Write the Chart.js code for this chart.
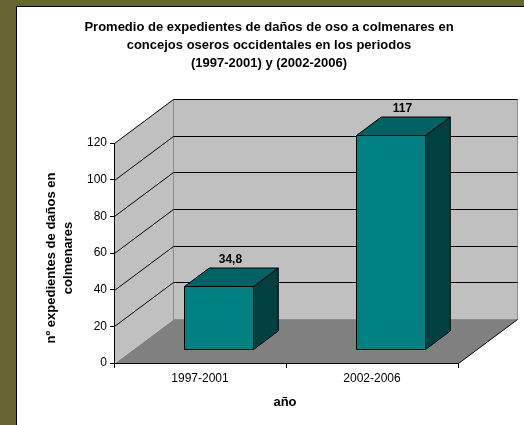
<!DOCTYPE html>
<html>
<head>
<meta charset="utf-8">
<script src="https://cdn.jsdelivr.net/npm/chart.js@4.4.0/dist/chart.umd.min.js"></script>
<style>
  html, body { margin: 0; padding: 0; background: #666633; }
  #panel { position: absolute; left: 16px; top: 6px; width: 507px; height: 418px; background: #fff; border-left: 1px solid #000; border-top: 1px solid #000; }
  #wrap { position: absolute; left: 0; top: 0; width: 524px; height: 425px; }
</style>
</head>
<body>
<div id="panel"></div>
<div id="wrap"><canvas id="chart" width="524" height="425"></canvas></div>
<script>
// data
const titleLines = [
    'Promedio de expedientes de daños de oso a colmenares en',
    'concejos oseros occidentales en los periodos',
    '(1997-2001) y (2002-2006)'
];
const periods = ['1997-2001', '2002-2006'];
const expedientes = [34.8, 117];
const yTicks = [0, 20, 40, 60, 80, 100, 120];
const yTitle = ['nº expedientes de daños en', 'colmenares'];
const xTitle = 'año';

const font = '"Liberation Sans", Arial, sans-serif';

// 3d look: depth of the box and where the bars sit inside it
const depthX = 59, depthY = -44;
const barFront = 0.31, barBack = 0.73;

function poly(ctx, pts, fill, stroke) {
    ctx.beginPath();
    ctx.moveTo(pts[0][0], pts[0][1]);
    for (let i = 1; i < pts.length; i++) ctx.lineTo(pts[i][0], pts[i][1]);
    ctx.closePath();
    if (fill) { ctx.fillStyle = fill; ctx.fill(); }
    if (stroke) { ctx.strokeStyle = stroke; ctx.lineWidth = 1; ctx.stroke(); }
}

const box3d = {
    id: 'box3d',
    beforeDraw(chart) {
        const ctx = chart.ctx;
        const a = chart.chartArea;
        const y = chart.scales.y;
        const L = a.left + 0.5, R = a.right + 0.5, T = a.top, B = a.bottom + 0.5;
        ctx.save();
        // floor
        poly(ctx, [[L, B], [R, B], [R + depthX, B + depthY], [L + depthX, B + depthY]], '#808080');
        // side wall
        poly(ctx, [[L, T + 0.5], [L, B], [L + depthX, B + depthY], [L + depthX, T + 0.5 + depthY]], '#c0c0c0');
        // back wall
        poly(ctx, [[L + depthX, T + 0.5 + depthY], [R + depthX, T + 0.5 + depthY], [R + depthX, B + depthY], [L + depthX, B + depthY]], '#c0c0c0', '#8c8c8c');
        // gridlines on side and back wall
        ctx.strokeStyle = '#000';
        ctx.lineWidth = 1;
        for (const v of yTicks) {
            if (v === 0) continue;
            const py = Math.round(y.getPixelForValue(v)) + 0.5;
            ctx.beginPath();
            ctx.moveTo(L, py);
            ctx.lineTo(L + depthX, py + depthY);
            ctx.lineTo(R + depthX, py + depthY);
            ctx.stroke();
        }
        // floor right edge
        ctx.beginPath();
        ctx.moveTo(R, B);
        ctx.lineTo(R + depthX, B + depthY);
        ctx.stroke();
        ctx.restore();
    },
    afterDatasetsDraw(chart) {
        const ctx = chart.ctx;
        const meta = chart.getDatasetMeta(0);
        const ddx = depthX * (barBack - barFront), ddy = depthY * (barBack - barFront);
        ctx.save();
        meta.data.forEach((el, i) => {
            const half = el.width / 2;
            const L = Math.round(el.x - half + depthX * barFront) + 0.5;
            const R = Math.round(el.x + half + depthX * barFront) + 0.5;
            const T = Math.round(el.y + depthY * barFront) + 0.5;
            const B = Math.round(el.base + depthY * barFront) + 0.5;
            poly(ctx, [[R, T], [R + ddx, T + ddy], [R + ddx, B + ddy], [R, B]], '#004040', '#000');
            poly(ctx, [[L, T], [L + ddx, T + ddy], [R + ddx, T + ddy], [R, T]], '#006262', '#000');
            poly(ctx, [[L, T], [R, T], [R, B], [L, B]], '#008080', '#000');
            ctx.fillStyle = '#000';
            ctx.font = 'bold 12px ' + font;
            ctx.textAlign = 'center';
            ctx.textBaseline = 'middle';
            ctx.fillText(String(expedientes[i]).replace('.', ','), (L + R) / 2 + ddx / 2 - 1, T + ddy - 8.5);
        });
        ctx.restore();
    },
    afterDraw(chart) {
        const ctx = chart.ctx;
        const a = chart.chartArea;
        ctx.save();
        ctx.fillStyle = '#000';
        ctx.font = 'bold 13px ' + font;
        ctx.textAlign = 'center';
        ctx.textBaseline = 'middle';
        titleLines.forEach((t, i) => ctx.fillText(t, 269, 27 + i * 18));
        ctx.fillText(xTitle, (a.left + a.right) / 2 - 1, 402);
        ctx.translate(60, 258);
        ctx.rotate(-Math.PI / 2);
        ctx.fillText(yTitle[0], 0, -8.5);
        ctx.fillText(yTitle[1], 0, 8.5);
        ctx.restore();
    }
};

let chart = new Chart(
    document.getElementById('chart'),
    {
        type: 'bar',
        data: {
            labels: periods,
            datasets: [{
                data: expedientes,
                backgroundColor: 'rgba(0,0,0,0)',
                borderWidth: 0,
                barPercentage: 0.4,
                categoryPercentage: 1
            }]
        },
        options: {
            responsive: false,
            animation: false,
            events: [],
            layout: { padding: { top: 143, left: 17, right: 66, bottom: 0 } },
            plugins: { legend: { display: false }, title: { display: false }, tooltip: { enabled: false } },
            scales: {
                x: {
                    grid: { drawOnChartArea: false, drawTicks: true, tickLength: 5, color: '#000', offset: true },
                    border: { display: true, color: '#000', width: 1 },
                    ticks: { color: '#000', font: { family: font, size: 12 }, padding: 3, maxRotation: 0 },
                    afterFit: s => { s.height = 62; }
                },
                y: {
                    min: 0,
                    max: 120,
                    afterBuildTicks: s => { s.ticks = yTicks.map(v => ({ value: v })); },
                    grid: { drawOnChartArea: false, drawTicks: true, tickLength: 4, color: '#000' },
                    border: { display: true, color: '#000', width: 1 },
                    ticks: { color: '#000', font: { family: font, size: 12 }, padding: 3 },
                    afterFit: s => { s.width = 97; }
                }
            }
        },
        plugins: [box3d]
    }
);
</script>
</body>
</html>
